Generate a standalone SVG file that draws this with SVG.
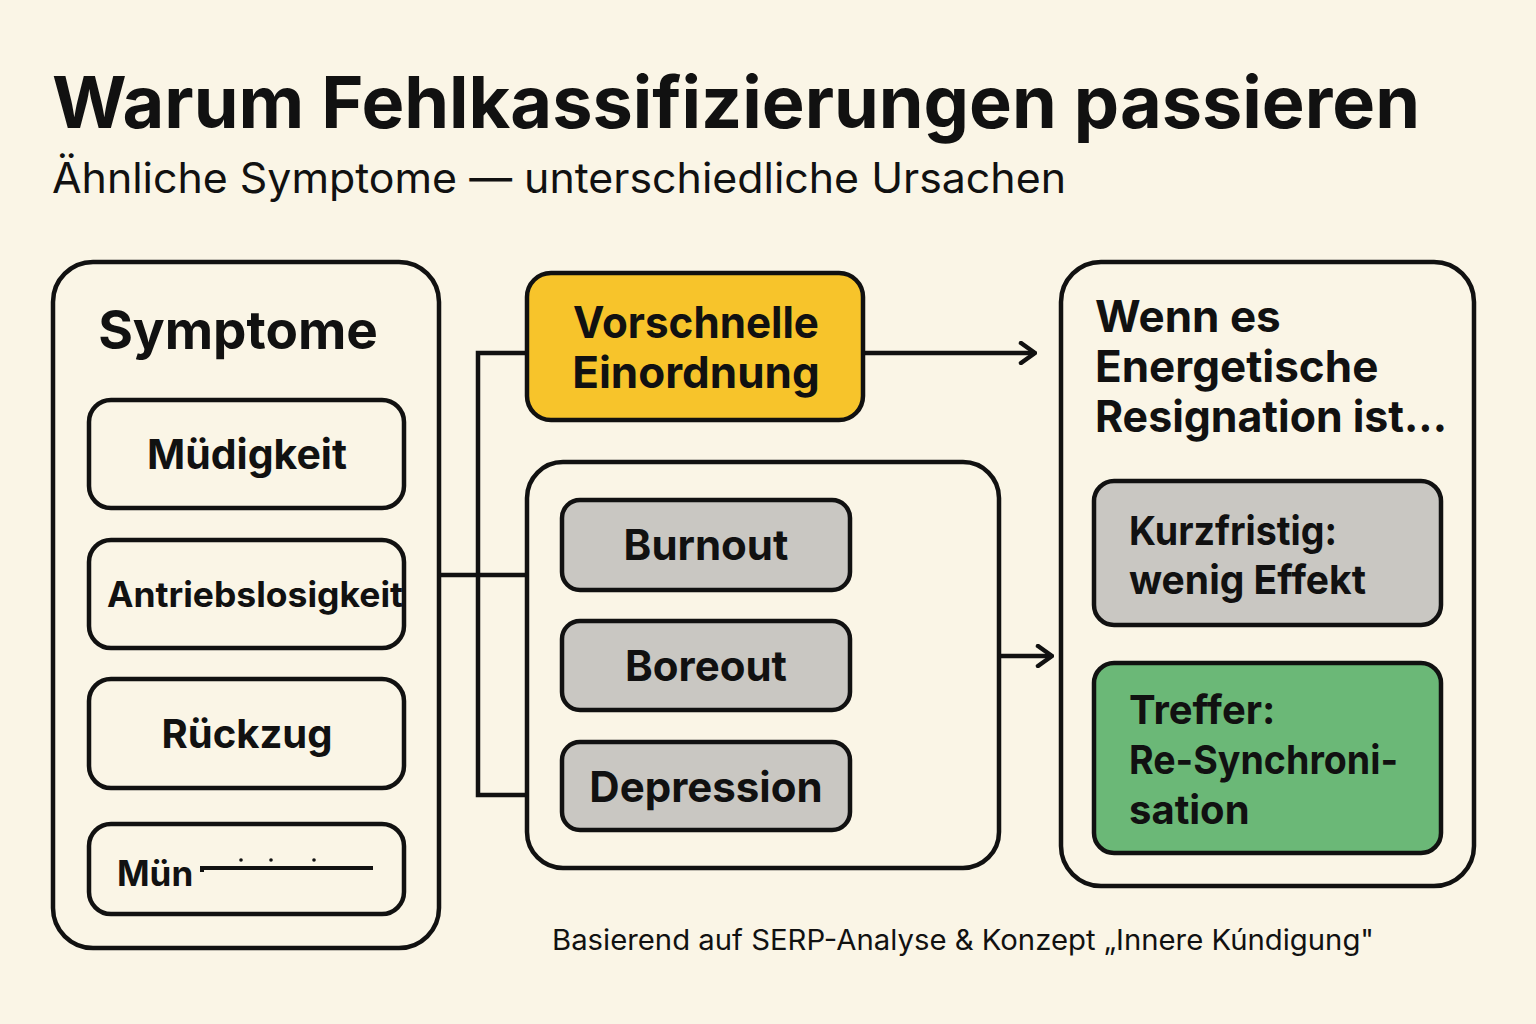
<svg xmlns="http://www.w3.org/2000/svg" width="1536" height="1024" viewBox="0 0 1536 1024">
<defs>
<style>
.bg{fill:#FAF5E6}
.panel{fill:#FAF5E6;stroke:#111;stroke-width:4.5}
.box{fill:#FAF5E6;stroke:#111;stroke-width:4.5}
.gray{fill:#C9C7C2;stroke:#111;stroke-width:4.5}
.yellow{fill:#F7C42B;stroke:#111;stroke-width:4.5}
.green{fill:#6BB877;stroke:#111;stroke-width:4.5}
.t{font-family:Inter,"Liberation Sans",sans-serif;fill:#111}
.b{font-weight:700}
.c{text-anchor:middle}
.line{fill:none;stroke:#111;stroke-width:4.5}
</style>
<marker id="chev" viewBox="0 0 20 24" refX="18" refY="12" markerWidth="20" markerHeight="24" markerUnits="userSpaceOnUse" orient="auto">
<path d="M4 2 L18 12 L4 22" fill="none" stroke="#111" stroke-width="4.5" stroke-linecap="round" stroke-linejoin="round"/>
</marker>
</defs>
<rect class="bg" x="0" y="0" width="1536" height="1024"/>

<g id="title">
<text class="t b" x="52" y="128" font-size="72" textLength="1368" lengthAdjust="spacingAndGlyphs">Warum Fehlkassifizierungen passieren</text>
<text class="t" x="52" y="193" font-size="42" textLength="1014" lengthAdjust="spacingAndGlyphs">Ähnliche Symptome — unterschiedliche Ursachen</text>
</g>

<g id="connectors">
<path class="line" d="M439 575 H527"/>
<path class="line" d="M527 353 H478 V795 H527"/>
<path class="line" d="M863 353 H1035" marker-end="url(#chev)"/>
<path class="line" d="M999 656 H1052" marker-end="url(#chev)"/>
</g>

<g id="symptome">
<rect class="panel" x="53" y="262" width="386" height="686" rx="40"/>
<text class="t b c" x="238" y="349" font-size="53">Symptome</text>
</g>
<g id="muedigkeit">
<rect class="box" x="89" y="400" width="315" height="108" rx="22"/>
<text class="t b c" x="247" y="469" font-size="41">Müdigkeit</text>
</g>
<g id="antriebslosigkeit">
<rect class="box" x="89" y="540" width="315" height="108" rx="22"/>
<text class="t b" x="107" y="607" font-size="35" textLength="296" lengthAdjust="spacingAndGlyphs">Antriebslosigkeit</text>
</g>
<g id="rueckzug">
<rect class="box" x="89" y="679" width="315" height="109" rx="22"/>
<text class="t b c" x="247" y="748" font-size="40">Rückzug</text>
</g>
<g id="muen">
<rect class="box" x="89" y="824" width="315" height="90" rx="22"/>
<text class="t b" x="117" y="886" font-size="35">Mün</text>
<path d="M202 872 V868 H373" fill="none" stroke="#111" stroke-width="4"/>
<circle cx="241" cy="860" r="1.8" fill="#111"/>
<circle cx="271" cy="860" r="1.8" fill="#111"/>
<circle cx="314" cy="860" r="1.8" fill="#111"/>
</g>

<g id="vorschnelle">
<rect class="yellow" x="527" y="273" width="336" height="147" rx="24"/>
<text class="t b c" x="696" y="338" font-size="44" textLength="246" lengthAdjust="spacingAndGlyphs">Vorschnelle</text>
<text class="t b c" x="696" y="388" font-size="44">Einordnung</text>
</g>

<g id="diagnosen">
<rect class="panel" x="527" y="462" width="472" height="406" rx="36"/>
</g>
<g id="burnout">
<rect class="gray" x="562" y="500" width="288" height="90" rx="18"/>
<text class="t b c" x="706" y="560" font-size="42">Burnout</text>
</g>
<g id="boreout">
<rect class="gray" x="562" y="621" width="288" height="89" rx="18"/>
<text class="t b c" x="706" y="681" font-size="42">Boreout</text>
</g>
<g id="depression">
<rect class="gray" x="562" y="742" width="288" height="88" rx="18"/>
<text class="t b c" x="706" y="802" font-size="42">Depression</text>
</g>

<g id="wenn">
<rect class="panel" x="1061" y="262" width="413" height="624" rx="40"/>
<text class="t b" x="1095" y="332" font-size="44">Wenn es</text>
<text class="t b" x="1095" y="382" font-size="44">Energetische</text>
<text class="t b" x="1095" y="432" font-size="44" textLength="352" lengthAdjust="spacingAndGlyphs">Resignation ist...</text>
</g>
<g id="kurzfristig">
<rect class="gray" x="1094" y="481" width="347" height="144" rx="20"/>
<text class="t b" x="1129" y="545" font-size="40" textLength="208" lengthAdjust="spacingAndGlyphs">Kurzfristig:</text>
<text class="t b" x="1129" y="594" font-size="40" textLength="237" lengthAdjust="spacingAndGlyphs">wenig Effekt</text>
</g>
<g id="treffer">
<rect class="green" x="1094" y="663" width="347" height="190" rx="20"/>
<text class="t b" x="1129" y="724" font-size="40">Treffer:</text>
<text class="t b" x="1129" y="774" font-size="40" textLength="269" lengthAdjust="spacingAndGlyphs">Re-Synchroni-</text>
<text class="t b" x="1129" y="824" font-size="40">sation</text>
</g>

<g id="footer">
<text class="t" x="552" y="950" font-size="28" textLength="822" lengthAdjust="spacingAndGlyphs">Basierend auf SERP-Analyse &amp; Konzept „Innere Kúndigung"</text>
</g>
</svg>
